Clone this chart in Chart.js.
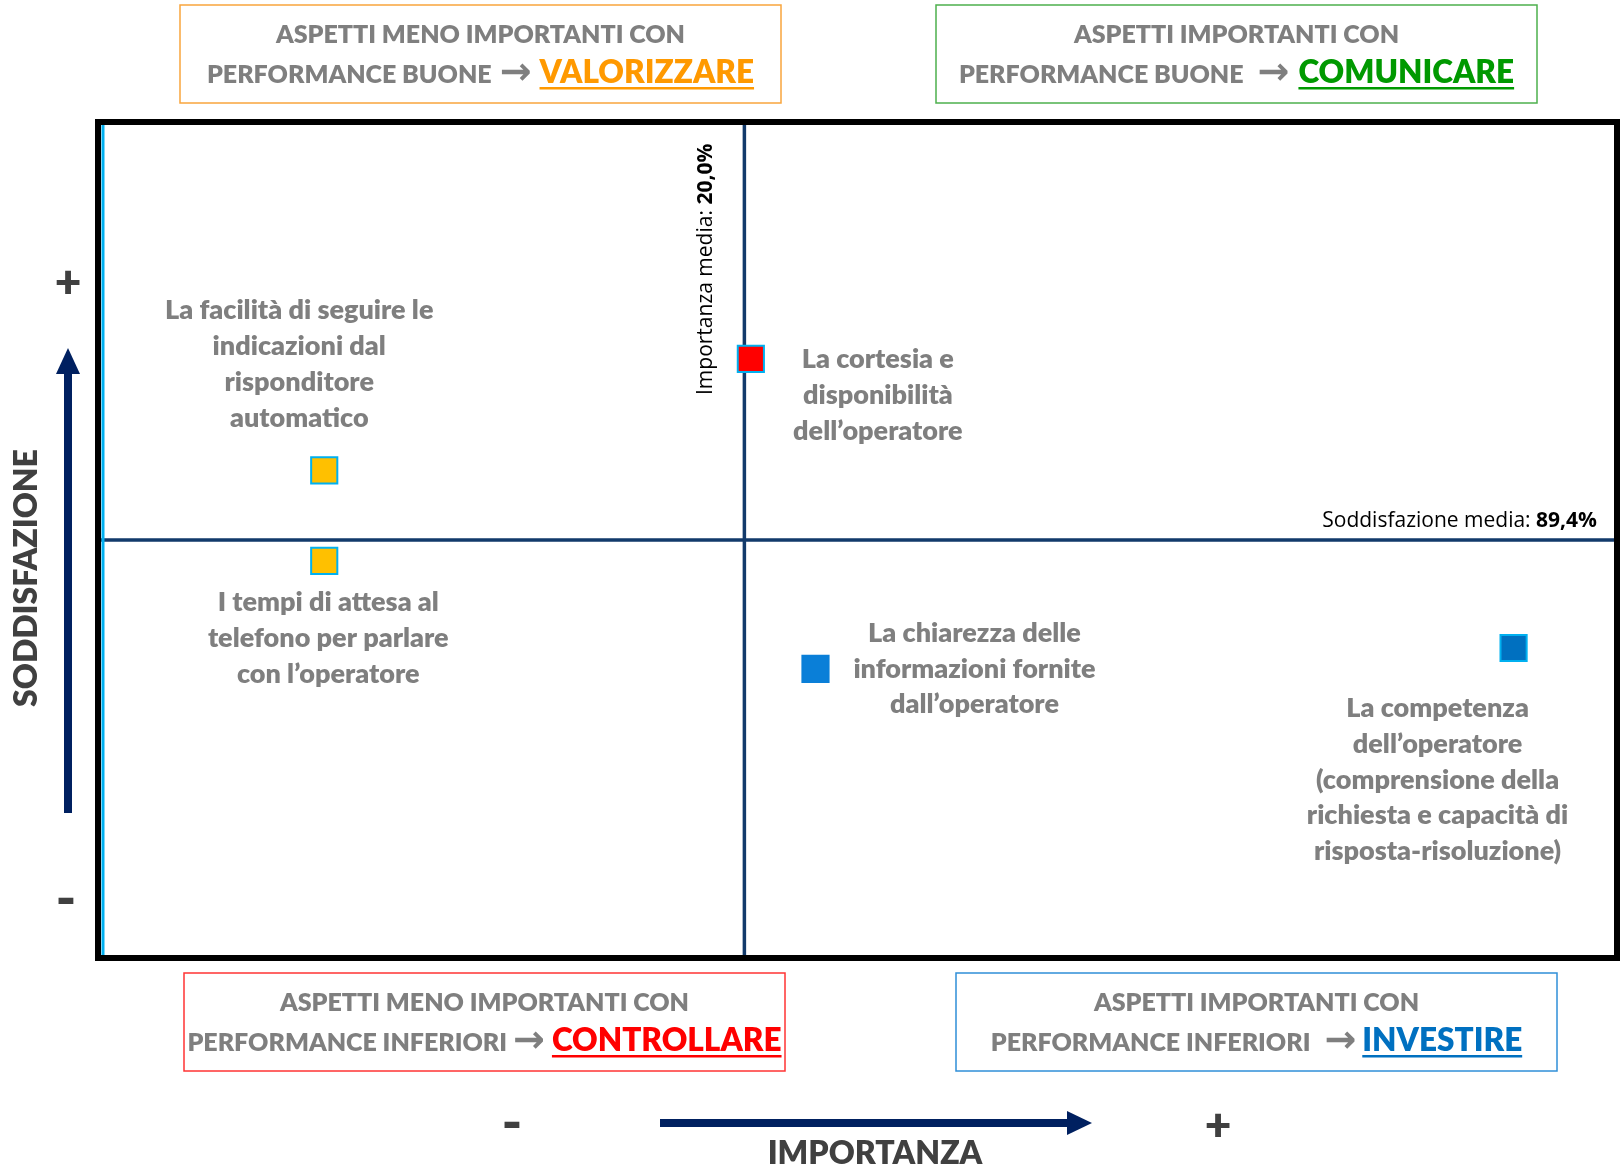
<!DOCTYPE html>
<html lang="it">
<head>
<meta charset="utf-8">
<title>Matrice importanza / soddisfazione</title>
<script src="https://cdn.jsdelivr.net/npm/chart.js@4.4.1/dist/chart.umd.min.js"></script>
<style>
  html, body { margin: 0; padding: 0; background: #ffffff; }
  #wrap { position: relative; width: 1624px; height: 1167px; }
</style>
</head>
<body>
<div id="wrap"><canvas id="matrix" width="1624" height="1167"></canvas></div>
<script>
// ---- data ----
const aspects = [
  ["La facilità di seguire le", "indicazioni dal", "risponditore", "automatico"],
  ["I tempi di attesa al", "telefono per parlare", "con l’operatore"],
  ["La cortesia e", "disponibilità", "dell’operatore"],
  ["La chiarezza delle", "informazioni fornite", "dall’operatore"],
  ["La competenza", "dell’operatore", "(comprensione della", "richiesta e capacità di", "risposta-risoluzione)"]
];
const importance = [13.5, 13.5, 20.1, 21.1, 31.9];   // %
const satisfaction = [90.4, 89.1, 92.0, 87.55, 87.85]; // %
const meanImportance = 20.0;
const meanSatisfaction = 89.4;
const importanceRange = [10, 33.5];
const satisfactionRange = [83.4, 95.4];

// ---- styles ----
const pointColors = ["#ffc000", "#ffc000", "#ff0000", "#0a7fd8", "#0070c0"];
const pointBorders = ["#00b0f0", "#00b0f0", "#00b0f0", "#0a7fd8", "#00b0f0"];
// label placement relative to its point: [dx, dy of first baseline]
const labelOffsets = [[-25, -151], [4, 50], [127, 9.5], [159, -27], [-76, 69]];

const GREY = "#7f7f7f";
const DARK = "#404040";
const NAVY = "#002060";
const LABEL_FONT = "800 27px Lato, 'Open Sans', sans-serif";
const BOX_FONT = "800 25px Lato, 'Open Sans', sans-serif";
const WORD_FONT = "800 31.5px Lato, 'Open Sans', sans-serif";
const ARROW_FONT = "bold 38px 'DejaVu Sans', sans-serif";
const NOTE_FONT = "21px 'Open Sans', sans-serif";
const NOTE_BOLD = "bold 21px 'Open Sans', sans-serif";

// quadrant boxes outside the plot
const quadrantBoxes = [
  { x: 180, y: 5, w: 601, h: 98, border: "#f9a53c", line1: "ASPETTI MENO IMPORTANTI CON",
    line2: "PERFORMANCE BUONE", word: "VALORIZZARE", color: "#ff9900", gaps: [8, 8] },
  { x: 936, y: 5, w: 601, h: 98, border: "#4db04d", line1: "ASPETTI IMPORTANTI CON",
    line2: "PERFORMANCE BUONE", word: "COMUNICARE", color: "#009900", gaps: [14, 9] },
  { x: 184, y: 973, w: 601, h: 98, border: "#ff3333", line1: "ASPETTI MENO IMPORTANTI CON",
    line2: "PERFORMANCE INFERIORI", word: "CONTROLLARE", color: "#ff0000", gaps: [6, 7] },
  { x: 956, y: 973, w: 601, h: 98, border: "#2f8fd8", line1: "ASPETTI IMPORTANTI CON",
    line2: "PERFORMANCE INFERIORI", word: "INVESTIRE", color: "#0070c0", gaps: [14, 6] }
];

function drawBox(ctx, b) {
  ctx.strokeStyle = b.border;
  ctx.lineWidth = 1.5;
  ctx.strokeRect(b.x, b.y, b.w, b.h);
  const cx = b.x + b.w / 2;
  ctx.fillStyle = GREY;
  ctx.font = BOX_FONT;
  ctx.textAlign = "center";
  ctx.textBaseline = "alphabetic";
  ctx.fillText(b.line1, cx, b.y + 38);

  // second line: grey text -> arrow -> coloured underlined word, centred as a whole
  const w1 = ctx.measureText(b.line2).width;
  ctx.font = ARROW_FONT;
  const w2 = ctx.measureText("→").width;
  ctx.font = WORD_FONT;
  const w3 = ctx.measureText(b.word).width;
  let xx = cx - (w1 + b.gaps[0] + w2 + b.gaps[1] + w3) / 2;
  const base = b.y + 78;
  ctx.textAlign = "left";
  ctx.font = BOX_FONT;
  ctx.fillText(b.line2, xx, base);
  xx += w1 + b.gaps[0];
  ctx.font = ARROW_FONT;
  ctx.fillText("→", xx, base + 1);
  xx += w2 + b.gaps[1];
  ctx.font = WORD_FONT;
  ctx.fillStyle = b.color;
  ctx.fillText(b.word, xx, base);
  ctx.fillRect(xx, base + 4, w3, 2.5);
}

const quadrantPlugin = {
  id: "quadrant",
  beforeDatasetsDraw(chart) {
    const { ctx, chartArea: a, scales: { x, y } } = chart;
    const mx = x.getPixelForValue(meanImportance);
    const my = y.getPixelForValue(meanSatisfaction);
    ctx.save();
    // mean lines
    ctx.strokeStyle = "#123a6b";
    ctx.lineWidth = 3.5;
    ctx.beginPath();
    ctx.moveTo(a.left, my);
    ctx.lineTo(a.right, my);
    ctx.moveTo(mx, a.top);
    ctx.lineTo(mx, a.bottom);
    ctx.stroke();
    // light blue axis line just inside the frame
    ctx.strokeStyle = "#00b0f0";
    ctx.lineWidth = 3;
    ctx.beginPath();
    ctx.moveTo(a.left + 5, a.top + 3);
    ctx.lineTo(a.left + 5, a.bottom - 3);
    ctx.stroke();
    // frame
    ctx.strokeStyle = "#000000";
    ctx.lineWidth = 6;
    ctx.strokeRect(a.left, a.top, a.right - a.left, a.bottom - a.top);

    // mean notes
    ctx.fillStyle = "#000000";
    ctx.textBaseline = "alphabetic";
    const sVal = meanSatisfaction.toFixed(1).replace(".", ",") + "%";
    ctx.font = NOTE_BOLD;
    const sw = ctx.measureText(sVal).width;
    ctx.textAlign = "right";
    ctx.fillText(sVal, a.right - 20, my - 13);
    ctx.font = NOTE_FONT;
    ctx.fillText("Soddisfazione media: ", a.right - 20 - sw, my - 13);

    const iVal = meanImportance.toFixed(1).replace(".", ",") + "%";
    ctx.translate(mx - 32, a.top + 273);
    ctx.rotate(-Math.PI / 2);
    ctx.textAlign = "left";
    ctx.font = NOTE_FONT;
    const iTxt = "Importanza media: ";
    ctx.fillText(iTxt, 0, 0);
    const iw = ctx.measureText(iTxt).width;
    ctx.font = NOTE_BOLD;
    ctx.fillText(iVal, iw, 0);
    ctx.restore();
  },
  afterDatasetsDraw(chart) {
    const { ctx } = chart;
    const meta = chart.getDatasetMeta(0);
    ctx.save();
    ctx.fillStyle = GREY;
    ctx.font = LABEL_FONT;
    ctx.textAlign = "center";
    ctx.textBaseline = "alphabetic";
    meta.data.forEach((pt, i) => {
      const [dx, dy] = labelOffsets[i];
      aspects[i].forEach((line, j) => {
        ctx.fillText(line, pt.x + dx, pt.y + dy + j * 35.8);
      });
    });
    ctx.restore();
  },
  afterDraw(chart) {
    const { ctx } = chart;
    ctx.save();
    quadrantBoxes.forEach((b) => drawBox(ctx, b));

    // axis arrows
    ctx.fillStyle = NAVY;
    ctx.fillRect(64, 372, 8, 441);
    ctx.beginPath();
    ctx.moveTo(68, 348);
    ctx.lineTo(80, 374);
    ctx.lineTo(56, 374);
    ctx.closePath();
    ctx.fill();

    ctx.fillRect(660, 1119, 410, 8);
    ctx.beginPath();
    ctx.moveTo(1092, 1123);
    ctx.lineTo(1067, 1111);
    ctx.lineTo(1067, 1135);
    ctx.closePath();
    ctx.fill();

    // axis names and signs
    ctx.fillStyle = DARK;
    ctx.textAlign = "center";
    ctx.textBaseline = "middle";
    ctx.font = "800 46px Lato, sans-serif";
    ctx.fillText("+", 68, 283);
    ctx.fillText("+", 1218, 1126);
    ctx.font = "900 56px Lato, sans-serif";
    ctx.fillText("-", 66, 900);
    ctx.fillText("-", 512, 1124);

    ctx.textBaseline = "alphabetic";
    ctx.font = "800 32px Lato, sans-serif";
    ctx.fillText("IMPORTANZA", 875, 1164);
    ctx.translate(37, 578);
    ctx.rotate(-Math.PI / 2);
    ctx.fillText("SODDISFAZIONE", 0, 0);
    ctx.restore();
  }
};

new Chart(document.getElementById("matrix"), {
  type: "scatter",
  data: {
    datasets: [
      {
        data: importance.map((v, i) => ({ x: v, y: satisfaction[i] })),
        pointStyle: "rect",
        pointRadius: 18.5,
        pointHoverRadius: 18.5,
        backgroundColor: pointColors,
        borderColor: pointBorders,
        borderWidth: 2,
      },
    ],
  },
  options: {
    responsive: false,
    animation: false,
    events: [],
    layout: { autoPadding: false, padding: { left: 98, top: 122, right: 7, bottom: 209 } },
    plugins: {
      legend: { display: false },
      tooltip: { enabled: false },
    },
    scales: {
      x: { display: false, min: importanceRange[0], max: importanceRange[1] },
      y: { display: false, min: satisfactionRange[0], max: satisfactionRange[1] },
    },
  },
  plugins: [quadrantPlugin],
});
</script>
</body>
</html>
